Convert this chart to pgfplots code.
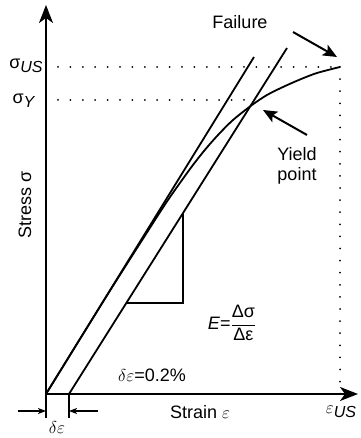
\documentclass[border=0pt]{standalone}
\usepackage{pgfplots}
\pgfplotsset{compat=1.18}
\usetikzlibrary{arrows.meta}
\usepackage{fontspec}
\setmainfont{Liberation Sans}

\begin{document}
\begin{tikzpicture}[font=\fontsize{18pt}{21pt}\selectfont]
\begin{axis}[
  x=1pt, y=1pt,
  xmin=0, xmax=312, ymin=0, ymax=389,
  axis lines=left,
  axis line style={line width=2pt, -{Stealth[length=18pt,width=14pt,inset=5pt]}},
  xtick=\empty, ytick=\empty,
  clip=false,
]
% elastic line through the origin and its 0.2% offset
\addplot[line width=1.8pt] coordinates {(0,0) (208,337)};
\addplot[line width=1.8pt] coordinates {(23,0) (241,346)};

% stress-strain curve up to failure
\addplot[line width=1.8pt, smooth, tension=0.5] coordinates {
  (0,0) (60,97) (100,160) (122,194) (144,225) (158,243) (172,259)
  (187,274) (206,289) (221,299) (237,307) (254,314.5) (271,321) (294,327)};

% slope triangle
\addplot[line width=1.3pt] coordinates {(80.3,91) (137,91) (137,181)};

% dotted guides for the characteristic stresses and strain
\addplot[line width=2pt, line cap=round, dash pattern=on 0pt off 12.4pt] coordinates {(12,327) (294,327)};
\addplot[line width=2pt, line cap=round, dash pattern=on 0pt off 12.4pt] coordinates {(12,294) (206,294)};
\addplot[line width=2pt, line cap=round, dash pattern=on 0pt off 12.1pt] coordinates {(294,327) (294,0)};

% offset dimension
\addplot[line width=1.2pt] coordinates {(0,0) (0,-24)};
\addplot[line width=1.2pt] coordinates {(23,0) (23,-24)};
\addplot[line width=1.2pt, -{Stealth[length=8pt,width=6pt,inset=2pt]}] coordinates {(-28,-17) (0,-17)};
\addplot[line width=1.2pt, -{Stealth[length=8pt,width=6pt,inset=2pt]}] coordinates {(52,-17) (23,-17)};

% pointers
\addplot[line width=2pt, -{Stealth[length=14pt,width=12pt,inset=3pt]}] coordinates {(247,362) (291,337)};
\addplot[line width=2pt, -{Stealth[length=14pt,width=12pt,inset=3pt]}] coordinates {(261,259) (217,284)};

% labels
\node at (axis cs:-20,328) {σ\raisebox{-4pt}{\fontsize{16pt}{18pt}\selectfont\textit{US}}};
\node at (axis cs:-22,293) {σ\raisebox{-4pt}{\fontsize{16pt}{18pt}\selectfont\textit{Y}}};
\node[rotate=90] at (axis cs:-21,189) {Stress σ};
\node at (axis cs:154,-18) {Strain $\varepsilon$};
\node at (axis cs:295,-18) {$\varepsilon$\raisebox{-4pt}{\fontsize{16pt}{18pt}\selectfont\textit{US}}};
\node[font=\fontsize{19pt}{21pt}\selectfont, inner sep=1pt] at (axis cs:11,-33) {$\delta\varepsilon$};
\node at (axis cs:106,19) {$\delta\varepsilon$=0.2\%};
\node at (axis cs:186,71) {\textit{E}=$\displaystyle\frac{\mbox{Δσ}}{\mbox{Δε}}$};
\node at (axis cs:194,372) {Failure};
\node[align=center, font=\fontsize{18pt}{20pt}\selectfont] at (axis cs:251,228) {Yield\\point};

\coordinate (bl) at (axis cs:-46,-44);
\coordinate (tr) at (axis cs:314,394);
\end{axis}
\pgfresetboundingbox
\path[use as bounding box] (bl) rectangle (tr);
\end{tikzpicture}
\end{document}
